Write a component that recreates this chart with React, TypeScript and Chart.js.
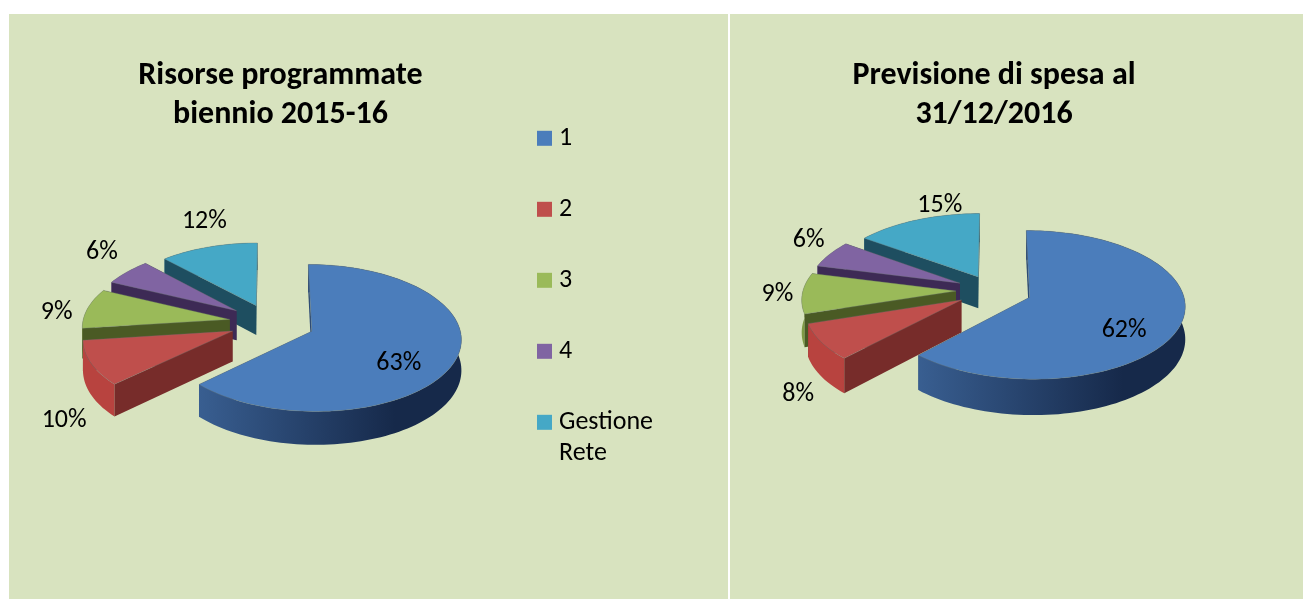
import React, { useEffect, useRef } from "react";
import { Chart, registerables } from "chart.js";

Chart.register(...registerables);

// ---- data ----
const categories = ["1", "2", "3", "4", ["Gestione", "Rete"]];
const risorseValues = [63, 10, 9, 6, 12];
const previsioneValues = [62, 8, 9, 6, 15];
const risorseTitle = ["Risorse programmate", "biennio 2015-16"];
const previsioneTitle = ["Previsione di spesa al", "31/12/2016"];

// ---- styles ----
const PANEL = "#d8e3bf";
const FONT = 'Carlito, Lato, "Noto Sans", sans-serif';
const topColors = ["#4b7dbb", "#bf4f4c", "#9aba59", "#8064a2", "#45a8c6"];
const faceColors = ["#2b4a75", "#772c2a", "#4a5a24", "#3d2a55", "#1e4e60"];
const rimLight = ["#4673ac", "#b8433f", "#7f9a45", "#6a4f8a", "#2f7f97"];
const rimDark = ["#16294a", "#6e2a28", "#46561f", "#34234a", "#153b4a"];

type Opts = {
  center: { x: number; y: number };
  tilt: number;
  persp: number;
  depth: number;
  labelNudge: number[][];
};

const pie3d = {
  id: "pie3d",
  beforeDatasetsDraw(chart: any, _a: any, o: Opts) {
    const { ctx } = chart;
    const arcs = chart.getDatasetMeta(0).data;
    const values = chart.data.datasets[0].data;
    const R = arcs[0].outerRadius;
    const project = (u: number, v: number) => {
      const s = 1 / (1 - o.persp * v);
      return { x: o.center.x + R * u * s, y: o.center.y + R * o.tilt * v * s, s };
    };
    const geo = (arc: any) => {
      const mid = (arc.startAngle + arc.endAngle) / 2;
      const e = (arc.options.offset || 0) / R;
      const tu = Math.cos(mid) * e;
      const tv = Math.sin(mid) * e;
      const steps = Math.max(6, Math.round((arc.endAngle - arc.startAngle) * 30));
      const rim = [];
      for (let k = 0; k <= steps; k++) {
        const a = arc.startAngle + ((arc.endAngle - arc.startAngle) * k) / steps;
        rim.push(project(tu + Math.cos(a), tv + Math.sin(a)));
      }
      const midRim = project(tu + Math.cos(mid), tv + Math.sin(mid));
      return { tip: project(tu, tv), rim, midRim };
    };
    const down = (p: any) => ({ x: p.x, y: p.y + o.depth * p.s });
    const poly = (pts: any[], fill: any) => {
      ctx.beginPath();
      pts.forEach((p, i) => (i ? ctx.lineTo(p.x, p.y) : ctx.moveTo(p.x, p.y)));
      ctx.closePath();
      ctx.fillStyle = fill;
      ctx.fill();
    };
    // a cut face shows when the slice's top lies above its edge on screen
    const faces = (tip: any, edge: any, mid: any) => {
      const dx = edge.x - tip.x || 0.001;
      const lineY = tip.y + ((edge.y - tip.y) / dx) * (mid.x - tip.x);
      return mid.y < lineY;
    };

    ctx.save();
    for (let i = arcs.length - 1; i >= 0; i--) {
      const { tip, rim, midRim } = geo(arcs[i]);
      const ends = [rim[0], rim[rim.length - 1]];
      const front = ends.filter((p) => faces(tip, p, midRim));
      const back = ends.filter((p) => !faces(tip, p, midRim));
      back.forEach((p) => poly([tip, p, down(p), down(tip)], faceColors[i]));
      const grad = ctx.createLinearGradient(o.center.x - R, 0, o.center.x + R * 0.85, 0);
      grad.addColorStop(0, rimLight[i]);
      grad.addColorStop(1, rimDark[i]);
      poly([...rim, ...rim.map(down).reverse()], grad);
      front.forEach((p) => poly([tip, p, down(p), down(tip)], faceColors[i]));
      poly([tip, ...rim], topColors[i]);
      ctx.strokeStyle = "rgba(110,120,115,0.35)";
      ctx.lineWidth = 1;
      ctx.stroke();
    }
    ctx.fillStyle = "#000";
    ctx.font = "26px " + FONT;
    ctx.textAlign = "center";
    ctx.textBaseline = "middle";
    arcs.forEach((arc: any, i: number) => {
      const { midRim } = geo(arc);
      ctx.fillText(values[i] + "%", midRim.x + o.labelNudge[i][0], midRim.y + o.labelNudge[i][1]);
    });
    ctx.restore();
    return false;
  },
};

function usePie(
  ref: React.RefObject<HTMLCanvasElement | null>,
  values: number[],
  title: string[],
  radius: number,
  explode: number[],
  showLegend: boolean,
  padding: any,
  pieOpts: Opts
) {
  useEffect(() => {
    const chart = new Chart(ref.current as HTMLCanvasElement, {
      type: "pie",
      plugins: [pie3d],
      data: {
        labels: categories as any,
        datasets: [{ data: values, backgroundColor: topColors, offset: explode, borderWidth: 0 }],
      },
      options: {
        responsive: false,
        animation: false,
        radius,
        layout: { padding },
        plugins: {
          pie3d: pieOpts,
          tooltip: { enabled: false },
          title: {
            display: true,
            text: title,
            fullSize: false,
            color: "#000",
            font: { family: FONT, size: 32, weight: "bold", lineHeight: 1.22 },
            padding: { top: 16, bottom: 0 },
          },
          legend: {
            display: showLegend,
            position: "right",
            align: "center",
            labels: {
              boxWidth: 3,
              boxHeight: 3,
              padding: 45,
              color: "#000",
              font: { family: FONT, size: 26, lineHeight: 1.2 },
              generateLabels: (c: any) =>
                c.data.labels.map((text: any, i: number) => ({
                  text,
                  index: i,
                  fillStyle: topColors[i],
                  strokeStyle: topColors[i],
                  lineWidth: 12,
                  fontColor: "#000",
                })),
            },
          },
        },
      } as any,
    });
    return () => chart.destroy();
  }, []);
}

export default function App() {
  const left = useRef<HTMLCanvasElement>(null);
  const right = useRef<HTMLCanvasElement>(null);

  usePie(left, risorseValues, risorseTitle, 147, [45, 41, 41, 42, 38], true, { top: 26, bottom: 42, left: 54, right: 65 }, {
    center: { x: 261, y: 308.5 },
    tilt: 0.485,
    persp: 0.09,
    depth: 30,
    labelNudge: [[-56, 2], [-27, 57], [-31, 4], [-25, -20], [-4, -26]],
  });
  usePie(right, previsioneValues, previsioneTitle, 153, [39, 37, 37, 37, 33], false, { top: 26, bottom: 0, left: 0, right: 45 }, {
    center: { x: 263, y: 276.5 },
    tilt: 0.472,
    persp: 0.1,
    depth: 32,
    labelNudge: [[-56, 5], [-23, 53], [-25, 1], [-21, -14], [23, -14]],
  });

  return (
    <div style={{ position: "fixed", left: 0, top: 0, width: 1303, height: 599, background: "#fff", overflow: "hidden" }}>
      <canvas ref={left} width={719} height={585} style={{ position: "absolute", left: 9, top: 14, background: PANEL }} />
      <canvas ref={right} width={573} height={585} style={{ position: "absolute", left: 730, top: 14, background: PANEL }} />
    </div>
  );
}
